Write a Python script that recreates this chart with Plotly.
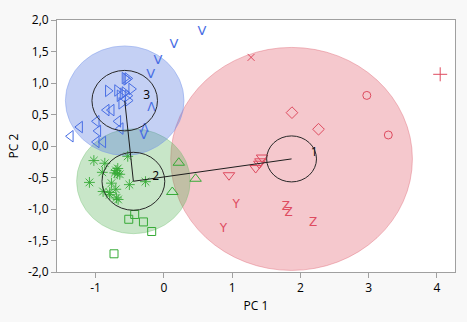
import plotly.graph_objects as go

# ---- data ----
blue_right_x = [-0.573, -0.548, -0.529, -0.817, -0.682, -0.602, -0.475, -0.573, -0.621, -0.529, -0.646, -0.524]
blue_right_y = [1.077, 1.057, 1.072, 0.875, 0.881, 0.829, 0.905, 0.849, 0.677, 0.798, 0.798, 0.722]
blue_left_x = [-1.366, -1.230, -0.986, -0.963, -0.840, -0.767, -0.670, -0.635, -0.986, -0.890]
blue_left_y = [0.155, 0.301, 0.392, 0.240, 0.570, 0.570, 0.392, 0.277, 0.064, 0.064]
blue_v_x = [0.559, 0.148, -0.086, -0.193, -0.295]
blue_v_y = [1.813, 1.601, 1.357, 1.129, 0.164]
blue_lambda_x = [-0.183, -0.280]
blue_lambda_y = [0.596, 0.266]

green_ast_x = [-1.025, -0.865, -0.529, -0.901, -0.700, -0.682, -0.719, -0.646, -1.090, -0.767,
               -0.505, -0.269, -0.890, -0.792, -0.704, -0.792, -0.694, -0.670, -0.675]
green_ast_y = [-0.231, -0.274, -0.164, -0.418, -0.388, -0.441, -0.426, -0.449, -0.578, -0.590,
               -0.613, -0.566, -0.722, -0.738, -0.687, -0.773, -0.824, -0.849, -0.357]
green_sq_x = [-0.427, -0.514, -0.299, -0.178, -0.730]
green_sq_y = [-1.087, -1.163, -1.205, -1.357, -1.711]
green_tri_x = [0.219, 0.465, 0.124]
green_tri_y = [-0.266, -0.520, -0.730]

red_tri_x = [0.954, 1.345, 1.399, 1.439, 1.414]
red_tri_y = [-0.464, -0.350, -0.281, -0.183, -0.243]
red_y_x = [1.059, 0.873]
red_y_y = [-0.940, -1.316]
red_z_x = [1.789, 1.827, 2.188]
red_z_y = [-0.966, -1.062, -1.229]
red_x_x = [1.278]
red_x_y = [1.407]
red_dia_x = [1.877, 2.266]
red_dia_y = [0.529, 0.266]
red_circ_x = [2.973, 3.288]
red_circ_y = [0.803, 0.175]
red_plus_x = [4.048]
red_plus_y = [1.138]

cluster_ids = ["1", "2", "3"]
cluster_cx = [1.871, -0.446, -0.573]
cluster_cy = [-0.205, -0.560, 0.720]
cluster_r_big = [1.77, 0.832, 0.869]
cluster_r_small = [0.365, 0.46, 0.48]
cluster_label_x = [2.203, -0.120, -0.251]
cluster_label_y = [-0.114, -0.494, 0.800]

x_tickvals = [-1, 0, 1, 2, 3, 4]
x_ticktext = ["-1", "0", "1", "2", "3", "4"]
y_tickvals = [-2.0, -1.5, -1.0, -0.5, 0.0, 0.5, 1.0, 1.5, 2.0]
y_ticktext = ["-2,0", "-1,5", "-1,0", "-0,5", "0,0", "0,5", "1,0", "1,5", "2,0"]

# ---- styling ----
BLUE = "rgb(72,110,228)"
GREEN = "rgb(55,170,55)"
RED = "rgb(222,75,95)"
fills = ["rgba(225,85,100,0.32)", "rgba(72,172,72,0.30)", "rgba(86,121,224,0.35)"]
edges = ["rgba(225,110,125,0.45)", "rgba(110,190,110,0.35)", "rgba(120,150,235,0.45)"]
FONT = "Open Sans"

fig = go.Figure()

def mk(x, y, symbol, color, size=9, width=1.0):
    fig.add_trace(go.Scatter(x=x, y=y, mode="markers", hoverinfo="skip",
                             marker=dict(symbol=symbol, size=size, color=color,
                                         line=dict(color=color, width=width))))

def tx(x, y, s, color, size=13):
    fig.add_trace(go.Scatter(x=x, y=y, mode="text", text=[s] * len(x), hoverinfo="skip",
                             textposition="middle center",
                             textfont=dict(family="DejaVu Sans ExtraLight, DejaVu Sans", size=size, color=color)))

# cluster circles
shapes = []
for i in range(3):
    cx, cy, R = cluster_cx[i], cluster_cy[i], cluster_r_big[i]
    shapes.append(dict(type="circle", xref="x", yref="y", layer="below",
                       x0=cx - R, x1=cx + R, y0=cy - R, y1=cy + R,
                       fillcolor=fills[i], line=dict(color=edges[i], width=1)))
for i in range(3):
    cx, cy, r = cluster_cx[i], cluster_cy[i], cluster_r_small[i]
    shapes.append(dict(type="circle", xref="x", yref="y", layer="above",
                       x0=cx - r, x1=cx + r, y0=cy - r, y1=cy + r,
                       fillcolor="rgba(0,0,0,0)", line=dict(color="rgb(40,40,40)", width=1)))

# blue
mk(blue_right_x, blue_right_y, "triangle-right-open", BLUE, 10)
mk(blue_left_x, blue_left_y, "triangle-left-open", BLUE, 10)
tx(blue_v_x, blue_v_y, "V", BLUE, 13)
tx(blue_lambda_x, blue_lambda_y, "Λ", BLUE, 12)
# green
mk(green_ast_x, green_ast_y, "asterisk-open", GREEN, 9, 0.9)
mk(green_sq_x, green_sq_y, "square-open", GREEN, 8)
mk(green_tri_x, green_tri_y, "triangle-up-open", GREEN, 10)
# red
mk(red_tri_x, red_tri_y, "triangle-down-open", RED, 10)
tx(red_y_x, red_y_y, "Y", RED, 12)
tx(red_z_x, red_z_y, "Z", RED, 12)
mk(red_x_x, red_x_y, "x-thin-open", RED, 7, 1.0)
mk(red_dia_x, red_dia_y, "diamond-open", RED, 9)
mk(red_circ_x, red_circ_y, "circle-open", RED, 8)
mk(red_plus_x, red_plus_y, "cross-thin-open", RED, 10, 1.0)

# connecting lines between cluster centers 3 -> 2 -> 1
order = [2, 1, 0]
fig.add_trace(go.Scatter(x=[cluster_cx[i] for i in order], y=[cluster_cy[i] for i in order],
                         mode="lines", hoverinfo="skip",
                         line=dict(color="rgb(30,30,30)", width=1)))
fig.add_trace(go.Scatter(x=cluster_label_x, y=cluster_label_y, mode="text", text=cluster_ids,
                         hoverinfo="skip", textposition="middle center",
                         textfont=dict(family=FONT, size=12, color="black")))

axis_common = dict(showgrid=False, zeroline=False, showline=True, mirror=True,
                   linecolor="rgb(160,160,160)", linewidth=1, ticks="outside",
                   ticklen=5, tickcolor="rgb(160,160,160)",
                   tickfont=dict(family=FONT, size=12, color="black"))

fig.update_layout(
    width=467, height=322,
    margin=dict(l=57, r=11, t=16, b=43),
    paper_bgcolor="rgb(248,248,248)", plot_bgcolor="white",
    showlegend=False, shapes=shapes,
    xaxis=dict(range=[-1.565, 4.265], tickvals=x_tickvals, ticktext=x_ticktext,
               title=dict(text="PC 1", font=dict(family=FONT, size=12, color="black"), standoff=6),
               **axis_common),
    yaxis=dict(range=[-2.0, 2.0], tickvals=y_tickvals, ticktext=y_ticktext,
               title=dict(text="PC 2", font=dict(family=FONT, size=12, color="black"), standoff=6),
               **axis_common),
)

fig.write_html("out.html")
